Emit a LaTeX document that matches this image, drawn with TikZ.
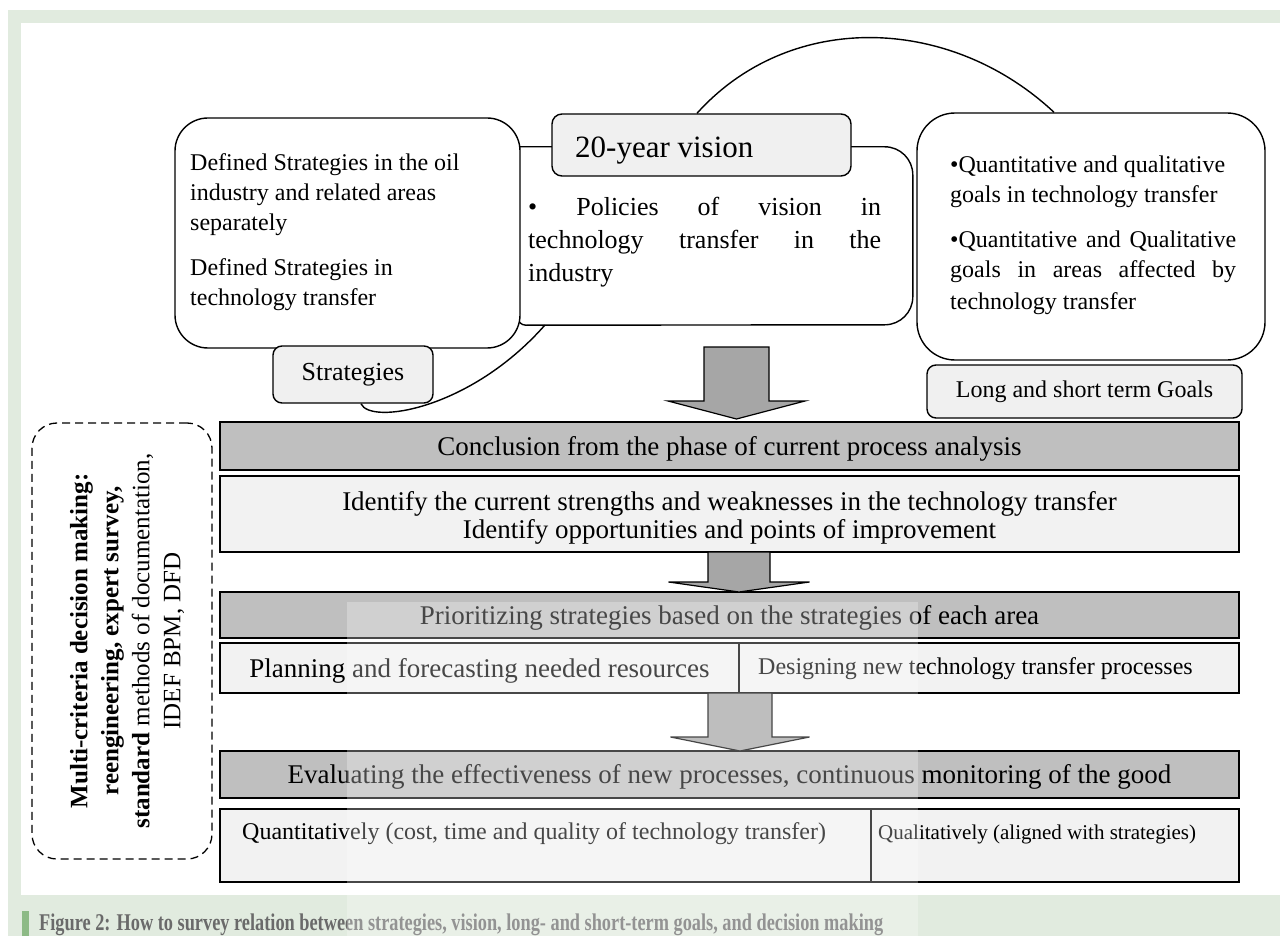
\documentclass[tikz,border=0pt]{standalone}
\usepackage{graphicx}
\usepackage{fontspec}
\setmainfont{Liberation Serif}
\usetikzlibrary{calc}

\definecolor{framegreen}{HTML}{E1EBDF}
\definecolor{markgreen}{HTML}{8DBA86}
\definecolor{bandgray}{HTML}{BFBFBF}
\definecolor{cellgray}{HTML}{F2F2F2}
\definecolor{tabgray}{HTML}{F0F0F0}
\definecolor{arrowgray}{HTML}{A6A6A6}
\definecolor{captiongray}{HTML}{6A6A6A}

\newcommand{\bandsize}{\fontsize{27}{28}\selectfont}
% block arrow: x centre, top y, barb y, tip y, half shaft width, half head width
\newcommand{\blockarrow}[6]{%
  \draw[flow] ({#1-#5},{#2}) -- ({#1+#5},{#2}) -- ({#1+#5},{#3}) -- ({#1+#6},{#3})
    -- ({#1},{#4}) -- ({#1-#6},{#3}) -- ({#1-#5},{#3}) -- cycle;}

\tikzset{
  outline/.style={draw=black, line width=1.4pt},
  box/.style={outline, fill=white, inner sep=0pt},
  tab/.style={outline, fill=tabgray, rounded corners=9pt, inner sep=0pt},
  bandtext/.style={font=\bandsize, text height=22pt, text depth=4pt},
  band/.style={draw=black, line width=1.6pt, fill=bandgray, inner sep=0pt,
    minimum width=1019pt, bandtext},
  cell/.style={draw=black, line width=1.6pt, fill=cellgray, inner sep=0pt},
  txt/.style={inner sep=0pt, text=black},
  flow/.style={draw=black, line width=1.2pt, fill=arrowgray, line join=miter},
  link/.style={draw=black, line width=1.4pt},
}

\begin{document}
\begin{tikzpicture}[x=1pt,y=-1pt]
\useasboundingbox (0,0) rectangle (1280,936);
\fill[white] (0,0) rectangle (1280,936);

% page frame and caption strip
\fill[framegreen] (8,10) rectangle (1280,23);
\fill[framegreen] (8,10) rectangle (21,936);
\fill[framegreen] (8,895) rectangle (1280,936);
\fill[markgreen] (22,911) rectangle (29,936);

% vision body (large right corners, small lower-left corner)
\node[minimum width=395pt, minimum height=178pt, inner sep=0pt] (vbody) at (715.5,236) {};
\draw[outline, fill=white] (vbody.north west) -- ++(367,0)
  arc[start angle=-90, end angle=0, radius=28] -- ++(0,122)
  arc[start angle=0, end angle=90, radius=28] -- ($(vbody.south west)+(8,0)$)
  arc[start angle=90, end angle=180, radius=8] -- cycle;
\node[txt, anchor=north west, align=left, font=\fontsize{26}{33}\selectfont] (vtext) at (528,197)
  {\makebox[353pt][s]{\textbullet{} Policies of vision in}\\
   \makebox[353pt][s]{technology transfer in the}\\
   industry};

% strategies body
\node[box, rounded corners=33pt, minimum width=345pt, minimum height=230pt] (sbody) at (347.5,233) {};
\node[txt, anchor=north west, align=left, font=\fontsize{24}{30}\selectfont] (stext) at (190,153)
  {Defined Strategies in the oil\\ industry and related areas\\ separately\\[15pt]
   Defined Strategies in\\ technology transfer};

% vision tab
\node[tab, rounded corners=10pt, minimum width=299pt, minimum height=62pt] (vtab) at (701.5,145) {};
\node[txt, anchor=base west, font=\fontsize{31}{31}\selectfont] (vtitle) at (575,158) {20-year vision};

% strategies tab
\node[tab, minimum width=160pt, minimum height=57pt, font=\fontsize{26}{26}\selectfont] (stab) at (353,374.5) {Strategies};

% goals body and tab
\node[box, rounded corners=38pt, minimum width=348pt, minimum height=247pt] (gbody) at (1091,236.5) {};
\node[txt, anchor=north west, align=left, font=\fontsize{24}{30}\selectfont] (gtext) at (950,156)
  {\textbullet Quantitative and qualitative\\ goals in technology transfer\\[15pt]
   \makebox[286pt][s]{\textbullet Quantitative and Qualitative}\\
   \makebox[286pt][s]{goals in areas affected by}\\[2pt] technology transfer};
\node[tab, minimum width=315pt, minimum height=53pt, font=\fontsize{24}{24}\selectfont] (gtab) at (1084.5,391.5) {Long and short term Goals};

% links between the upper boxes
\draw[link] ($(vtab.north)+(-4.5,0)$) .. controls (790,10) and (950,15) .. ($(gbody.north)+(-37,0)$);
\draw[link] ($(stab.south)+(8,0)$) .. controls (370,425) and (470,410) .. ($(vbody.south west)+(27,0)$);

% process bands
\node[band, minimum height=48pt] (b1) at (729.5,446) {Conclusion from the phase of current process analysis};
\node[cell, minimum width=1019pt, minimum height=76pt] (b2) at (729.5,514) {};
\node[txt, align=center, font=\bandsize] (b2t) at (729.5,518)
  {Identify the current strengths and weaknesses in the technology transfer\\
   Identify opportunities and points of improvement};
\node[band, minimum height=46pt] (b3) at (729.5,615) {Prioritizing strategies based on the strategies of each area};
\node[cell, minimum width=519pt, minimum height=50pt, bandtext] (b4l) at (479.5,668) {Planning and forecasting needed resources};
\node[cell, minimum width=500pt, minimum height=50pt] (b4r) at (989,668) {};
\node[txt, anchor=west, font=\fontsize{24}{24}\selectfont] (b4rt) at (758,669) {Designing new technology transfer processes};
\node[band, minimum height=47pt] (b5) at (729.5,774.5) {Evaluating the effectiveness of new processes, continuous monitoring of the good};
\node[cell, minimum width=651pt, minimum height=73pt] (b6l) at (545.5,845.5) {};
\node[cell, minimum width=368pt, minimum height=73pt] (b6r) at (1055,845.5) {};
\node[txt, anchor=west, font=\fontsize{24}{24}\selectfont] (b6lt) at (242,834) {Quantitatively (cost, time and quality of technology transfer)};
\node[txt, anchor=west, font=\fontsize{21}{21}\selectfont] (b6rt) at (878,834) {Qualitatively (aligned with strategies)};

% block arrows
\blockarrow{736.5}{347}{401}{419}{32.5}{68.5}
\blockarrow{739}{552}{582}{592}{31}{70.5}
\blockarrow{740}{693}{737}{751}{32}{69.5}

% methods panel
\node[draw=black, line width=1.3pt, dash pattern=on 8pt off 5pt, rounded corners=25pt,
  minimum width=180pt, minimum height=436pt, inner sep=0pt] (dbox) at (122,641) {};
\node[txt, rotate=90, align=center, font=\fontsize{25}{31}\selectfont] (mtext) at (127,641)
  {\textbf{Multi-criteria decision making:}\\
   \textbf{reengineering, expert survey,}\\
   \textbf{standard} methods of documentation,\\
   IDEF BPM, DFD};

% caption
\node[anchor=base west, inner sep=0pt, text=captiongray, font=\bfseries\fontsize{24}{24}\selectfont] (caption) at (39,930)
  {\resizebox{844pt}{\height}{Figure 2: How to survey relation between strategies, vision, long- and short-term goals, and decision making}};

% faint translucent panel
\fill[white, opacity=0.28] (347,602) rectangle (918,936);
\end{tikzpicture}
\end{document}
